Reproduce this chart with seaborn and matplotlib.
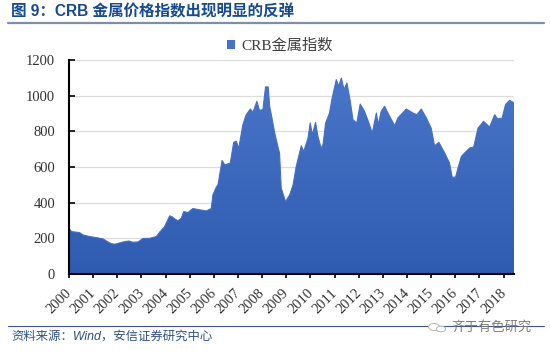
# -*- coding: utf-8 -*-
import matplotlib
matplotlib.use("Agg")
import matplotlib.pyplot as plt
import numpy as np
import pandas as pd
import seaborn as sns
from matplotlib.colors import LinearSegmentedColormap
from matplotlib.lines import Line2D
from matplotlib.patches import Circle, Patch
from matplotlib.transforms import ScaledTranslation

TITLE = "图 9：CRB 金属价格指数出现明显的反弹"
SOURCE = "资料来源：Wind，安信证券研究中心"
WATERMARK = "齐于有色研究"
SERIES_NAME = "CRB金属指数"

YEAR_TICKS = list(range(2000, 2019))
Y_TICKS = [0, 200, 400, 600, 800, 1000, 1200]

TIME = [
    2000.00, 2000.10, 2000.44, 2000.58, 2000.86, 2001.13, 2001.41, 2001.55, 2001.75, 2001.89,
    2002.10, 2002.31, 2002.48, 2002.65, 2002.86, 2003.06, 2003.34, 2003.62, 2003.75, 2003.96,
    2004.17, 2004.26, 2004.38, 2004.51, 2004.65, 2004.75, 2004.93, 2005.13, 2005.41, 2005.69,
    2005.89, 2005.96, 2006.10, 2006.17, 2006.34, 2006.45, 2006.68, 2006.82, 2006.93, 2007.03,
    2007.20, 2007.34, 2007.51, 2007.62, 2007.78, 2007.89, 2008.03, 2008.14, 2008.25, 2008.31,
    2008.38, 2008.52, 2008.65, 2008.72, 2008.79, 2008.97, 2009.14, 2009.28, 2009.41, 2009.62,
    2009.72, 2009.90, 2009.99, 2010.08, 2010.21, 2010.31, 2010.44, 2010.52, 2010.63, 2010.79,
    2010.90, 2011.07, 2011.17, 2011.28, 2011.39, 2011.51, 2011.65, 2011.76, 2011.92, 2012.06,
    2012.24, 2012.42, 2012.56, 2012.73, 2012.81, 2012.93, 2013.07, 2013.28, 2013.49, 2013.62,
    2013.97, 2014.24, 2014.41, 2014.59, 2014.80, 2015.00, 2015.14, 2015.32, 2015.56, 2015.76,
    2015.87, 2016.01, 2016.11, 2016.25, 2016.38, 2016.59, 2016.76, 2016.94, 2017.17, 2017.42,
    2017.63, 2017.76, 2017.94, 2018.08, 2018.25, 2018.43,
]
CRB_METAL = [
    257, 238, 232, 219, 210, 204, 197, 185, 170, 167,
    174, 182, 185, 178, 180, 199, 200, 210, 234, 266,
    326, 322, 309, 298, 313, 350, 345, 367, 360, 354,
    367, 444, 487, 500, 637, 612, 622, 738, 745, 704,
    837, 893, 925, 907, 968, 918, 921, 1049, 1049, 940,
    893, 790, 715, 678, 481, 406, 444, 500, 603, 719,
    687, 762, 847, 781, 850, 772, 706, 725, 847, 903,
    987, 1090, 1053, 1099, 1034, 1071, 968, 865, 847, 953,
    912, 847, 790, 903, 837, 912, 940, 884, 832, 875,
    925, 903, 893, 925, 875, 818, 719, 738, 678, 622,
    543, 543, 594, 659, 678, 706, 712, 818, 856, 824,
    893, 869, 875, 950, 974, 959,
]

W, H = 550, 351
CJK = "Noto Sans CJK SC"
SERIF_LIST = ["Liberation Serif", CJK]
SANS_LIST = ["Liberation Sans", CJK]

sns.set_theme(style="white")
plt.rcParams["font.family"] = SERIF_LIST

df = pd.DataFrame({"time": TIME, "value": CRB_METAL})

fig = plt.figure(figsize=(W / 100, H / 100), dpi=100, facecolor="white")
ax = fig.add_axes([69 / W, 1 - 274 / H, (514 - 69) / W, (274 - 60) / H])

sns.lineplot(data=df, x="time", y="value", color="#4470c4", linewidth=0.8, ax=ax, zorder=3)
poly = ax.fill_between(df["time"], df["value"], 0, color="none", zorder=2)

cmap = LinearSegmentedColormap.from_list("crb", ["#2f5bb0", "#4a76c9"])
img = ax.imshow(
    np.linspace(1, 0, 256).reshape(-1, 1),
    extent=[2000, 2018.43, 0, 1100],
    aspect="auto",
    cmap=cmap,
    zorder=2,
)
img.set_clip_path(poly.get_paths()[0], transform=ax.transData)

ax.set_xlim(2000, 2018.43)
ax.set_ylim(0, 1200)
ax.set_xlabel("")
ax.set_ylabel("")

ax.set_yticks(Y_TICKS)
ax.set_xticks(YEAR_TICKS)
ax.set_xticklabels(
    [str(y) for y in YEAR_TICKS],
    rotation=45,
    ha="right",
    rotation_mode="anchor",
    fontsize=10.5,
    color="#333333",
)
ax.tick_params(axis="y", direction="in", length=4, width=1.2, labelsize=10.5, labelcolor="#333333", pad=10, color="black", left=True)
ax.tick_params(axis="x", direction="out", length=3, width=1.2, pad=6, color="black", bottom=True)

# year labels sit a little left of their ticks
shift = ScaledTranslation(-4 / 100, 0, fig.dpi_scale_trans)
for label in ax.get_xticklabels():
    label.set_transform(label.get_transform() + shift)

ax.grid(axis="y", color="#dddddd", linewidth=0.9, zorder=0)
ax.grid(axis="x", visible=False)
ax.set_axisbelow(True)

sns.despine(ax=ax, top=True, right=True)
for side in ["left", "bottom"]:
    ax.spines[side].set_linewidth(1.5)
    ax.spines[side].set_color("black")
    ax.spines[side].set_zorder(5)

ax.legend(
    handles=[Patch(facecolor="#4472c4", edgecolor="none", label=SERIES_NAME)],
    loc="center",
    bbox_to_anchor=((280 - 69) / (514 - 69), (274 - 46) / (274 - 60)),
    frameon=False,
    fontsize=11,
    handlelength=0.55,
    handleheight=0.55,
    handletextpad=0.4,
    labelcolor="#404040",
    borderpad=0,
)

# title, rules and footer sit outside the axes
fig.text(11 / W, 1 - 11.5 / H, TITLE, fontsize=11.2, fontweight="bold", color="#164a92", va="center", ha="left", family=SANS_LIST)
fig.add_artist(Line2D([8 / W, 544 / W], [1 - 23 / H] * 2, color="#7f8ea6", linewidth=1.6))
fig.add_artist(Line2D([8 / W, 544 / W], [1 - 326 / H] * 2, color="#3f5597", linewidth=0.8))
fig.text(11 / W, 1 - 337 / H, SOURCE, fontsize=8.9, style="italic", color="#2e5288", va="center", ha="left", family=SANS_LIST)

# watermark with its small icon
for cx, cy, r in [(434, 327, 5.5), (441, 329, 4.5)]:
    fig.add_artist(Circle((cx / W, 1 - cy / H), r / W, transform=fig.transFigure, facecolor="white", edgecolor="#b5b5b5", linewidth=0.7, zorder=4))
fig.text(451 / W, 1 - 327 / H, WATERMARK, fontsize=9.6, color="#7d7d7d", va="center", ha="left", family=SANS_LIST, zorder=5)

fig.savefig("out.png", dpi=100, facecolor="white")
